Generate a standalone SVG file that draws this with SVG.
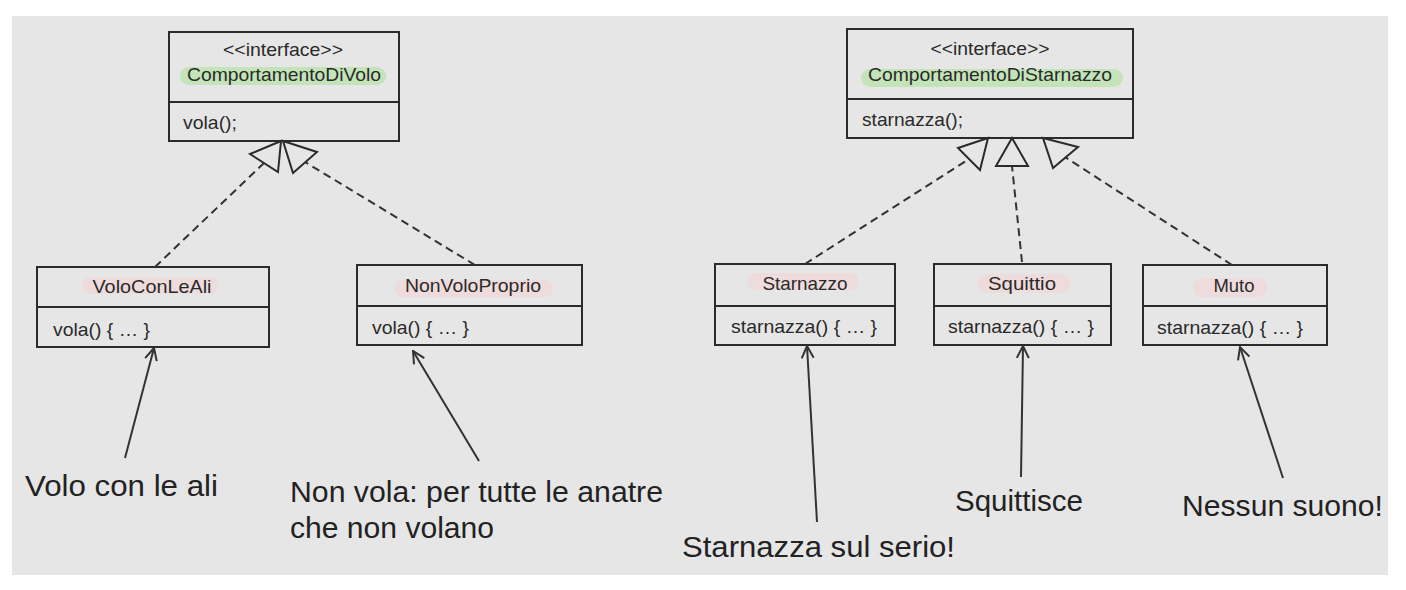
<svg xmlns="http://www.w3.org/2000/svg" width="1406" height="590" viewBox="0 0 1406 590">
<style>
.box{fill:none;stroke:#2b2b2b;stroke-width:2}
.t{font-family:"Liberation Sans",Arial,sans-serif;font-size:18.5px;fill:#2a2a2a}
.big{font-family:"Liberation Sans",Arial,sans-serif;font-size:30px;fill:#222}
.dash{stroke:#333;stroke-width:2;stroke-dasharray:8 5;fill:none}
.tri{fill:none;stroke:#2b2b2b;stroke-width:2;stroke-linejoin:miter}
.arr{stroke:#333;stroke-width:2;fill:none}
.pink{fill:#efd8d8;opacity:0.85}
.green{fill:#bfe3b4;opacity:0.9}
</style>
<defs>
<marker id="open" viewBox="0 0 14 14" refX="13" refY="7" markerWidth="14" markerHeight="14" markerUnits="userSpaceOnUse" orient="auto">
<path d="M1,1 L13,7 L1,13" fill="none" stroke="#333" stroke-width="2"/>
</marker>
</defs>
<rect x="0" y="0" width="1406" height="590" fill="#ffffff"/>
<rect x="12" y="16" width="1376" height="559" fill="#e6e6e6"/>

<g id="ComportamentoDiVolo">
<rect class="green" x="180" y="67" width="206" height="18" rx="9"/>
<rect class="box" x="169" y="32" width="230" height="109"/>
<line class="box" x1="169" y1="102" x2="399" y2="102"/>
<text class="t" x="283" y="56" text-anchor="middle" font-size="16" textLength="120" lengthAdjust="spacingAndGlyphs">&lt;&lt;interface&gt;&gt;</text>
<text class="t" x="284" y="81" text-anchor="middle" textLength="194" lengthAdjust="spacingAndGlyphs">ComportamentoDiVolo</text>
<text class="t" x="183" y="129" textLength="54" lengthAdjust="spacingAndGlyphs">vola();</text>
</g>

<g id="ComportamentoDiStarnazzo">
<rect class="green" x="861" y="69" width="262" height="18" rx="9"/>
<rect class="box" x="847" y="29" width="286" height="109"/>
<line class="box" x1="847" y1="99" x2="1133" y2="99"/>
<text class="t" x="990" y="55" text-anchor="middle" font-size="16" textLength="119" lengthAdjust="spacingAndGlyphs">&lt;&lt;interface&gt;&gt;</text>
<text class="t" x="990" y="81" text-anchor="middle" textLength="244" lengthAdjust="spacingAndGlyphs">ComportamentoDiStarnazzo</text>
<text class="t" x="862" y="126" textLength="101" lengthAdjust="spacingAndGlyphs">starnazza();</text>
</g>

<g id="VoloConLeAli">
<rect class="pink" x="82" y="277" width="136" height="17" rx="8"/>
<rect class="box" x="37" y="267" width="232" height="80"/>
<line class="box" x1="37" y1="307" x2="269" y2="307"/>
<text class="t" x="152" y="293" text-anchor="middle" textLength="119" lengthAdjust="spacingAndGlyphs">VoloConLeAli</text>
<text class="t" x="53" y="336" textLength="97" lengthAdjust="spacingAndGlyphs">vola() { … }</text>
</g>

<g id="NonVoloProprio">
<rect class="pink" x="395" y="280" width="158" height="17" rx="8"/>
<rect class="box" x="357" y="265" width="225" height="80"/>
<line class="box" x1="357" y1="306" x2="582" y2="306"/>
<text class="t" x="473" y="292" text-anchor="middle" textLength="136" lengthAdjust="spacingAndGlyphs">NonVoloProprio</text>
<text class="t" x="372" y="334" textLength="97" lengthAdjust="spacingAndGlyphs">vola() { … }</text>
</g>

<g id="Starnazzo">
<rect class="pink" x="748" y="273" width="110" height="17" rx="8"/>
<rect class="box" x="715" y="264" width="180" height="81"/>
<line class="box" x1="715" y1="306" x2="895" y2="306"/>
<text class="t" x="805" y="290" text-anchor="middle" textLength="85" lengthAdjust="spacingAndGlyphs">Starnazzo</text>
<text class="t" x="731" y="333" textLength="146" lengthAdjust="spacingAndGlyphs">starnazza() { … }</text>
</g>

<g id="Squittio">
<rect class="pink" x="978" y="274" width="92" height="19" rx="9"/>
<rect class="box" x="934" y="264" width="177" height="81"/>
<line class="box" x1="934" y1="306" x2="1111" y2="306"/>
<text class="t" x="1022" y="290" text-anchor="middle" textLength="68" lengthAdjust="spacingAndGlyphs">Squittio</text>
<text class="t" x="948" y="333" textLength="146" lengthAdjust="spacingAndGlyphs">starnazza() { … }</text>
</g>

<g id="Muto">
<rect class="pink" x="1193" y="278" width="74" height="19" rx="9"/>
<rect class="box" x="1143" y="265" width="184" height="80"/>
<line class="box" x1="1143" y1="306" x2="1327" y2="306"/>
<text class="t" x="1234" y="292" text-anchor="middle" textLength="41" lengthAdjust="spacingAndGlyphs">Muto</text>
<text class="t" x="1157" y="334" textLength="146" lengthAdjust="spacingAndGlyphs">starnazza() { … }</text>
</g>

<g id="connectors">
<line class="dash" x1="155" y1="267" x2="264" y2="163"/>
<polygon class="tri" points="281,141 250,154 278,172"/>
<line class="dash" x1="475" y1="265" x2="305" y2="162"/>
<polygon class="tri" points="283,141 317,152 293,173"/>
<line class="dash" x1="805" y1="264" x2="969" y2="159"/>
<polygon class="tri" points="988,138 958,148 980,170"/>
<line class="dash" x1="1022" y1="262" x2="1012" y2="166"/>
<polygon class="tri" points="1012,138 996,166 1028,166"/>
<line class="dash" x1="1232" y1="265" x2="1065" y2="157"/>
<polygon class="tri" points="1043,138 1078,147 1053,168"/>

<line class="arr" x1="125" y1="458" x2="154" y2="348" marker-end="url(#open)"/>
<line class="arr" x1="479" y1="461" x2="413" y2="351" marker-end="url(#open)"/>
<line class="arr" x1="817" y1="522" x2="807" y2="346" marker-end="url(#open)"/>
<line class="arr" x1="1021" y1="477" x2="1023" y2="346" marker-end="url(#open)"/>
<line class="arr" x1="1283" y1="478" x2="1240" y2="347" marker-end="url(#open)"/>
</g>

<g id="labels">
<text class="big" x="25" y="496" textLength="193" lengthAdjust="spacingAndGlyphs">Volo con le ali</text>
<text class="big" x="290" y="502" textLength="373" lengthAdjust="spacingAndGlyphs">Non vola: per tutte le anatre</text>
<text class="big" x="290" y="538" textLength="204" lengthAdjust="spacingAndGlyphs">che non volano</text>
<text class="big" x="682" y="557" textLength="273" lengthAdjust="spacingAndGlyphs">Starnazza sul serio!</text>
<text class="big" x="955" y="511" textLength="128" lengthAdjust="spacingAndGlyphs">Squittisce</text>
<text class="big" x="1182" y="516" textLength="201" lengthAdjust="spacingAndGlyphs">Nessun suono!</text>
</g>
</svg>
